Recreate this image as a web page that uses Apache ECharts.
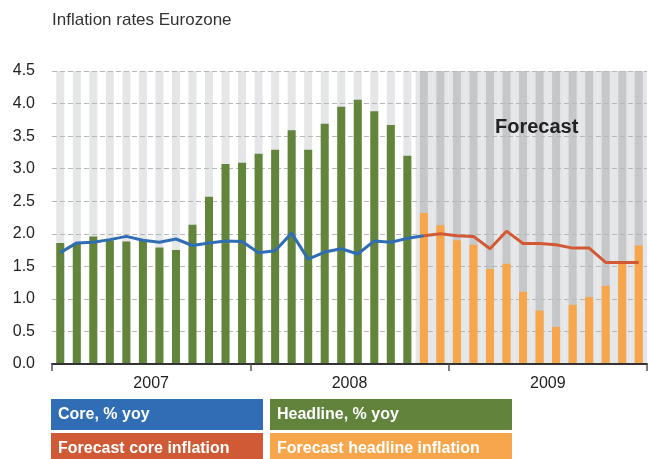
<!DOCTYPE html>
<html>
<head>
<meta charset="utf-8">
<script src="https://cdn.jsdelivr.net/npm/echarts@6.0.0/dist/echarts.min.js"></script>
<style>
  html, body { margin: 0; padding: 0; background: #fff; }
  #chart-container { width: 648px; height: 459px; }
</style>
</head>
<body>
<div id="chart-container"></div>
<script>
// Monthly categories Jan 2007 - Dec 2009
const years = ["2007", "2008", "2009"];
const months = [];
years.forEach(function (y) {
  for (let m = 1; m <= 12; m++) months.push(y + "-" + (m < 10 ? "0" + m : m));
});

// Headline inflation, % yoy (Jan 2007 - Oct 2008)
const headline = [1.86, 1.86, 1.96, 1.90, 1.88, 1.89, 1.79, 1.75, 2.14, 2.57, 3.07, 3.09,
  3.23, 3.29, 3.59, 3.29, 3.69, 3.95, 4.06, 3.88, 3.67, 3.20];
// Forecast headline inflation (Nov 2008 - Dec 2009)
const headlineForecast = [2.32, 2.13, 1.90, 1.83, 1.46, 1.54, 1.11, 0.82, 0.57, 0.91, 1.03, 1.20, 1.55, 1.82];
// Core inflation, % yoy (Jan 2007 - Oct 2008)
const core = [1.71, 1.86, 1.87, 1.91, 1.96, 1.90, 1.87, 1.92, 1.82, 1.86, 1.89, 1.88,
  1.71, 1.74, 2.01, 1.61, 1.72, 1.77, 1.69, 1.89, 1.87, 1.93];
// Forecast core inflation (Nov 2008 - Dec 2009)
const coreForecast = [1.97, 2.00, 1.97, 1.96, 1.77, 2.04, 1.85, 1.85, 1.83, 1.78, 1.78, 1.56, 1.56, 1.56];

const yMin = 0;
const yMax = 4.5;
const yStep = 0.5;

const nHist = headline.length;
const font = "Liberation Sans";

// series arrays on the month axis
const headlineData = months.map((m, i) => (i < nHist ? headline[i] : "-"));
const headlineFcData = months.map((m, i) => (i >= nHist ? headlineForecast[i - nHist] : "-"));
const coreData = months.map((m, i) => (i < nHist ? core[i] : i === nHist ? coreForecast[0] : "-"));
const coreFcData = months.map((m, i) => (i >= nHist ? coreForecast[i - nHist] : "-"));
const columnBg = months.map((m, i) => ({
  value: yMax,
  itemStyle: { color: i < nHist ? "#e5e6e8" : "#c6c7c9" },
}));
const forecastBg = months.map((m, i) => (i >= nHist ? yMax : "-"));

const dom = document.getElementById("chart-container");
const myChart = echarts.init(dom, null, { renderer: "canvas" });

const legendBox = (x, y, w, color, label) => ({
  type: "group",
  children: [
    { type: "rect", shape: { x: x, y: y, width: w, height: 31 }, style: { fill: color } },
    {
      type: "text",
      x: x + 7,
      y: y + 16,
      style: {
        text: label, fill: "#fff", font: "bold 16px '" + font + "'",
        verticalAlign: "middle",
      },
    },
  ],
});

const option = {
  animation: false,
  title: {
    text: "Inflation rates Eurozone",
    left: 47,
    top: 7,
    textStyle: { fontFamily: font, fontSize: 17, fontWeight: "normal", color: "#333" },
  },
  grid: { left: 52, right: 1, top: 71, bottom: 95 },
  xAxis: [
    {
      type: "category",
      data: months,
      axisLine: { show: false },
      axisTick: { show: false },
      axisLabel: { show: false },
    },
    {
      type: "category",
      data: years,
      position: "bottom",
      axisLine: { lineStyle: { color: "#333", width: 2 } },
      axisTick: { show: true, interval: 0, length: 7, lineStyle: { color: "#555", width: 1.5 } },
      axisLabel: { fontFamily: font, fontSize: 16, color: "#1e1e1e", margin: 12 },
      z: 5,
    },
    {
      type: "category",
      data: months,
      show: false,
    },
  ],
  yAxis: {
    type: "value",
    min: yMin,
    max: yMax,
    interval: yStep,
    axisLine: { show: false },
    axisTick: { show: false },
    axisLabel: {
      fontFamily: font, fontSize: 16, color: "#222", margin: 17,
      formatter: (v) => v.toFixed(1),
    },
    splitLine: { lineStyle: { color: "#b7b7b7", type: [5, 3], width: 1 } },
  },
  graphic: [
    {
      type: "text",
      left: 495,
      top: 117,
      style: { text: "Forecast", fill: "#222", font: "bold 20px '" + font + "'" },
      z: 10,
    },
    legendBox(51, 399, 212, "#306db5", "Core, % yoy"),
    legendBox(270, 399, 242, "#62833c", "Headline, % yoy"),
    legendBox(51, 433, 212, "#d05a36", "Forecast core inflation"),
    legendBox(270, 433, 242, "#f8a64b", "Forecast headline inflation"),
  ],
  series: [
    {
      type: "bar",
      xAxisIndex: 2,
      data: forecastBg,
      barWidth: "100%",
      itemStyle: { color: "#e5e6e8" },
      silent: true,
      z: -2,
    },
    {
      type: "bar",
      data: columnBg,
      barWidth: 8,
      barGap: "-100%",
      silent: true,
      z: -1,
    },
    {
      name: "Headline, % yoy",
      type: "bar",
      data: headlineData,
      barWidth: 8,
      barGap: "-100%",
      itemStyle: { color: "#62843b" },
    },
    {
      name: "Forecast headline inflation",
      type: "bar",
      data: headlineFcData,
      barWidth: 8,
      barGap: "-100%",
      itemStyle: { color: "#f8a64b" },
    },
    {
      name: "Core, % yoy",
      type: "line",
      data: coreData,
      symbol: "none",
      lineStyle: { color: "#2f6db5", width: 3 },
      z: 4,
    },
    {
      name: "Forecast core inflation",
      type: "line",
      data: coreFcData,
      symbol: "none",
      lineStyle: { color: "#d15a35", width: 3 },
      z: 4,
    },
  ],
};

myChart.setOption(option);
window.addEventListener("resize", myChart.resize);
</script>
</body>
</html>
